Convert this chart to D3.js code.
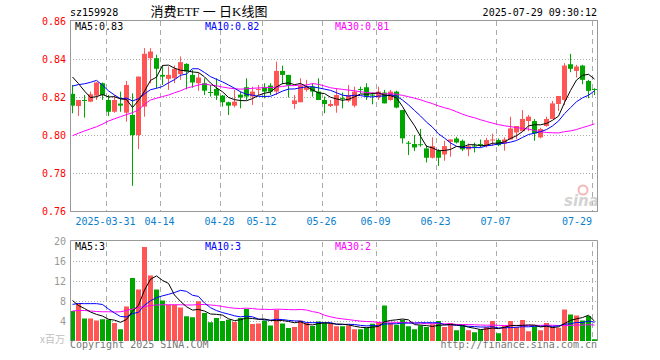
<!DOCTYPE html>
<html><head><meta charset="utf-8">
<script src="https://cdn.jsdelivr.net/npm/d3@7"></script>
<style>html,body{margin:0;padding:0;background:#fff;}svg{display:block;}</style>
</head><body>
<svg id="c" width="660" height="360"></svg>
<script>
// ---------- data ----------
const dates = ["03-21","03-24","03-25","03-26","03-27","03-28","03-31","04-01","04-02","04-03","04-07","04-08","04-09","04-10","04-11","04-14","04-15","04-16","04-17","04-18","04-21","04-22","04-23","04-24","04-25","04-28","04-29","04-30","05-06","05-07","05-08","05-09","05-12","05-13","05-14","05-15","05-16","05-19","05-20","05-21","05-22","05-23","05-26","05-27","05-28","05-29","05-30","06-03","06-04","06-05","06-06","06-09","06-10","06-11","06-12","06-13","06-16","06-17","06-18","06-19","06-20","06-23","06-24","06-25","06-26","06-27","06-30","07-01","07-02","07-03","07-04","07-07","07-08","07-09","07-10","07-11","07-14","07-15","07-16","07-17","07-18","07-21","07-22","07-23","07-24","07-25","07-28","07-29"];
const open  = [0.8219,0.8155,0.8187,0.8178,0.8210,0.8275,0.8187,0.8125,0.8168,0.8120,0.8108,0.8002,0.8152,0.8407,0.8407,0.8319,0.8298,0.8301,0.8323,0.8377,0.8319,0.8275,0.8275,0.8229,0.8245,0.8210,0.8175,0.8157,0.8215,0.8254,0.8205,0.8243,0.8254,0.8263,0.8231,0.8340,0.8319,0.8166,0.8175,0.8240,0.8257,0.8231,0.8187,0.8155,0.8157,0.8198,0.8183,0.8157,0.8245,0.8254,0.8215,0.8200,0.8226,0.8187,0.8231,0.8134,0.7962,0.7955,0.7954,0.7932,0.7883,0.7919,0.7900,0.7967,0.7984,0.7972,0.7927,0.7947,0.7955,0.7946,0.7977,0.7976,0.7958,0.7979,0.8016,0.8023,0.8076,0.8076,0.7990,0.8050,0.8087,0.8166,0.8187,0.8375,0.8340,0.8368,0.8287,0.8245];
const high  = [0.8266,0.8187,0.8213,0.8231,0.8281,0.8279,0.8213,0.8213,0.8231,0.8287,0.8222,0.8310,0.8460,0.8460,0.8425,0.8368,0.8363,0.8368,0.8416,0.8380,0.8345,0.8330,0.8301,0.8266,0.8301,0.8213,0.8178,0.8240,0.8231,0.8301,0.8257,0.8266,0.8275,0.8275,0.8389,0.8368,0.8319,0.8213,0.8301,0.8293,0.8275,0.8301,0.8205,0.8187,0.8249,0.8226,0.8266,0.8257,0.8257,0.8275,0.8226,0.8257,0.8240,0.8240,0.8236,0.8134,0.7971,0.8002,0.8034,0.7949,0.7990,0.7928,0.7972,0.7979,0.7993,0.7979,0.7958,0.7962,0.7979,0.7988,0.8010,0.7984,0.7990,0.8099,0.8050,0.8134,0.8108,0.8087,0.8041,0.8099,0.8182,0.8208,0.8381,0.8430,0.8372,0.8372,0.8293,0.8249];
const low   = [0.8117,0.8103,0.8094,0.8175,0.8187,0.8187,0.8103,0.8120,0.8125,0.8073,0.7735,0.7928,0.8099,0.8275,0.8249,0.8266,0.8240,0.8275,0.8293,0.8243,0.8252,0.8235,0.8213,0.8205,0.8187,0.8152,0.8108,0.8148,0.8143,0.8187,0.8161,0.8213,0.8196,0.8213,0.8213,0.8270,0.8200,0.8140,0.8175,0.8231,0.8205,0.8187,0.8117,0.8150,0.8120,0.8143,0.8175,0.8148,0.8222,0.8187,0.8164,0.8187,0.8169,0.8183,0.8143,0.7958,0.7897,0.7918,0.7941,0.7858,0.7879,0.7840,0.7867,0.7888,0.7958,0.7918,0.7891,0.7911,0.7937,0.7937,0.7946,0.7944,0.7920,0.7979,0.7980,0.8023,0.8023,0.7972,0.7985,0.8046,0.8087,0.8129,0.8161,0.8333,0.8305,0.8270,0.8196,0.8213];
const close = [0.8157,0.8187,0.8182,0.8217,0.8279,0.8213,0.8125,0.8187,0.8157,0.8266,0.8002,0.8310,0.8430,0.8442,0.8351,0.8310,0.8319,0.8351,0.8386,0.8337,0.8279,0.8305,0.8236,0.8224,0.8210,0.8175,0.8157,0.8178,0.8200,0.8205,0.8231,0.8245,0.8231,0.8231,0.8340,0.8319,0.8263,0.8185,0.8263,0.8257,0.8231,0.8187,0.8166,0.8166,0.8213,0.8194,0.8213,0.8231,0.8242,0.8205,0.8213,0.8231,0.8169,0.8231,0.8147,0.7985,0.7958,0.7937,0.7952,0.7883,0.7944,0.7883,0.7944,0.7979,0.7963,0.7927,0.7944,0.7944,0.7952,0.7976,0.7979,0.7949,0.7979,0.8037,0.8050,0.8087,0.8099,0.8011,0.8034,0.8087,0.8169,0.8208,0.8368,0.8351,0.8363,0.8293,0.8235,0.8243];
// volume, x 1,000,000
const volume = [6.0,7.5,4.5,4.5,4.1,4.35,4.3,3.6,2.35,6.9,12.6,10.3,18.8,13.1,10.3,8.1,7.25,7.25,6.7,4.95,4.75,7.95,5.6,3.75,4.6,4.0,4.25,3.8,4.6,6.4,3.4,3.5,4.1,3.1,6.25,3.5,2.6,2.8,4.1,3.6,3.0,3.9,3.6,3.45,2.95,2.95,3.1,2.35,2.35,2.6,3.45,3.8,7.1,3.6,3.25,4.25,2.95,2.35,3.1,2.8,3.35,4.0,2.8,3.6,2.15,3.1,2.15,1.75,2.25,2.8,4.0,1.55,3.1,4.0,2.8,4.2,1.95,2.95,2.15,3.6,2.8,2.65,6.3,5.3,5.1,4.1,5.0,0.35];
// moving-average values at the start of the window (they depend on days before it)
const ma5Head  = [0.8308,0.8273,0.8234,0.8200];
const ma10Head = [0.8260,0.8268,0.8272,0.8280,0.8290,0.8265,0.8235,0.8213,0.8194];
const ma30Head = [0.7999,0.8012,0.8024,0.8035,0.8046,0.8060,0.8076,0.8088,0.8099,0.8110,0.8120,0.8135,0.8164,0.8187,0.8196,0.8205,0.8213,0.8225,0.8235,0.8249,0.8257,0.8266,0.8272,0.8265,0.8262,0.8255,0.8250,0.8246,0.8244];
const vma5Head  = [8.1,7.1,6.5,5.8];
const vma10Head = [7.33,7.5,7.47,7.47,7.47,7.3,6.4,5.6,4.9];
const vma30Head = [6.0,6.1,6.1,6.0,5.9,5.85,5.85,5.8,5.85,6.1,6.4,6.7,6.9,7.1,7.2,7.25,7.25,7.25,7.25,7.2,7.2,7.3,7.3,7.2,7.1,6.9,6.7,6.55,6.5];
const priceTicks = [0.86,0.84,0.82,0.80,0.78,0.76];
const volTicks = [20,16,12,8,4];
const dateTicks = ["03-31","04-14","04-28","05-12","05-26","06-09","06-23","07-07","07-29"];
const dateTickLabels = ["2025-03-31","04-14","04-28","05-12","05-26","06-09","06-23","07-07","07-29"];
const maLabels = ["MA5:0.83","MA10:0.82","MA30:0.81"];
const vmaLabels = ["MA5:3","MA10:3","MA30:2"];
const symbol = "sz159928";
const title = "消费ETF 一 日K线图";
const stamp = "2025-07-29 09:30:12";

// ---------- drawing ----------
const svg = d3.select("#c");
const L = 70, R = 597;
const RED = "#ff5555", GREEN = "#00a600", GRID = "#aaaaaa", BORDER = "#999999";
const MA_COL = ["#000000","#0000ff","#ff00ff"];
const mono = "'DejaVu Sans Mono', monospace";

const x = d3.scaleBand().domain(dates).range([69.5, 597.5]).padding(0);
const cx = d => x(d) + x.bandwidth()/2;
const y = d3.scaleLinear().domain([0.76, 0.86]).range([211.5, 21.5]);
const vy = d3.scaleLinear().domain([0, 20]).range([341, 241]);

function ma(vals, n, head) {
  return vals.map((v, i) => {
    if (i < head.length) return head[i];
    return d3.mean(vals.slice(i - n + 1, i + 1));
  });
}
const rows = dates.map((d, i) => ({d, o: open[i], h: high[i], l: low[i], c: close[i], v: volume[i]}));
const isUp = r => r.c >= r.o;

// grids
const g = svg.append("g");
const crisp = v => Math.round(v - 0.5) + 0.5;
// horizontal dotted
g.selectAll(".hp").data(priceTicks.filter(t => t > 0.765 && t < 0.855)).join("line")
  .attr("x1", L).attr("x2", R).attr("y1", d => crisp(y(d))).attr("y2", d => crisp(y(d)))
  .attr("stroke", GRID).attr("stroke-dasharray", "1,2");
g.selectAll(".hv").data(volTicks.filter(t => t < 20)).join("line")
  .attr("x1", L).attr("x2", R).attr("y1", d => crisp(vy(d))).attr("y2", d => crisp(vy(d)))
  .attr("stroke", GRID).attr("stroke-dasharray", "1,2");
// vertical dashed
const gx = d => cx(d) - 2;
g.selectAll(".vp").data(dateTicks).join("line")
  .attr("x1", d => crisp(gx(d))).attr("x2", d => crisp(gx(d))).attr("y1", 21).attr("y2", 211)
  .attr("stroke", GRID).attr("stroke-dasharray", "5,4");
g.selectAll(".vv").data(dateTicks).join("line")
  .attr("x1", d => crisp(gx(d))).attr("x2", d => crisp(gx(d))).attr("y1", 242).attr("y2", 341)
  .attr("stroke", GRID).attr("stroke-dasharray", "5,4");

// watermark
const wm = svg.append("g").attr("opacity", 0.9);
wm.append("circle").attr("cx", 583).attr("cy", 190).attr("r", 4.5).attr("fill", "none").attr("stroke", "#f2b0b0").attr("stroke-width", 2);
wm.append("text").attr("x", 564).attr("y", 206).attr("font-family", "'DejaVu Sans', sans-serif")
  .attr("font-size", 15).attr("font-weight", "bold").attr("font-style", "italic").attr("fill", "#cfcfcf").text("sina");

// candles
const cg = svg.append("g");
cg.selectAll(".wick").data(rows).join("line")
  .attr("x1", r => cx(r.d)).attr("x2", r => cx(r.d))
  .attr("y1", r => y(r.h)).attr("y2", r => y(r.l))
  .attr("stroke", r => isUp(r) ? RED : GREEN).attr("stroke-width", 1);
cg.selectAll(".body").data(rows).join("rect")
  .attr("x", r => cx(r.d) - 2.5).attr("width", 5)
  .attr("y", r => Math.min(y(r.o), y(r.c)))
  .attr("height", r => Math.max(1, Math.abs(y(r.o) - y(r.c))))
  .attr("fill", r => isUp(r) ? RED : GREEN);

// volume bars
svg.append("g").selectAll("rect").data(rows).join("rect")
  .attr("x", r => cx(r.d) - 2.5).attr("width", 5)
  .attr("y", r => vy(r.v)).attr("height", r => vy(0) - vy(r.v))
  .attr("fill", r => isUp(r) ? RED : GREEN);

// MA lines
const line = (scale) => d3.line().x((v, i) => cx(dates[i])).y(v => scale(v));
const pMA = [ma(close, 5, ma5Head), ma(close, 10, ma10Head), ma(close, 30, ma30Head)];
const vMA = [ma(volume, 5, vma5Head), ma(volume, 10, vma10Head), ma(volume, 30, vma30Head)];
// draw 30 first, then 10, then 5
[2,1,0].forEach(k => {
  svg.append("path").attr("d", line(y)(pMA[k])).attr("fill", "none").attr("stroke", MA_COL[k]).attr("stroke-width", 1);
  svg.append("path").attr("d", line(vy)(vMA[k])).attr("fill", "none").attr("stroke", MA_COL[k]).attr("stroke-width", 1);
});

// borders
const b = svg.append("g").attr("stroke", BORDER).attr("fill", "none");
b.append("rect").attr("x", 70.5).attr("y", 20.5).attr("width", 527).attr("height", 191);
b.append("path").attr("d", "M70.5,341V240.5H597.5V341");

// text
const T = (x0, y0, s, opt = {}) => svg.append("text").attr("x", x0).attr("y", y0)
  .attr("font-family", opt.font || mono).attr("font-size", opt.size || 10)
  .attr("fill", opt.fill || "#000").attr("text-anchor", opt.anchor || "start").text(s);

T(70, 16, symbol);
T(209, 16, title, {font: "'Liberation Serif', 'Noto Sans CJK SC', serif", size: 13, anchor: "middle"});
T(597, 16, stamp, {anchor: "end"});

priceTicks.forEach(t => T(66, y(t) + 3.5, t.toFixed(2), {fill: "#ff0000", anchor: "end"}));
volTicks.forEach(t => T(66, vy(t) + 3.5, String(t), {fill: "#999999", anchor: "end"}));
T(65, 343, "x百万", {font: "'Noto Sans CJK SC', sans-serif", size: 10, fill: "#c0c0c0", anchor: "end"});

const maX = [75, 205, 335];
maLabels.forEach((s, k) => T(maX[k], 29.5, s, {fill: MA_COL[k]}));
vmaLabels.forEach((s, k) => T(maX[k], 249.5, s, {fill: MA_COL[k]}));

dateTicks.forEach((d, k) => {
  const s = dateTickLabels[k];
  const w = s.length * 6.02;
  const c = Math.min(gx(d) - 1, 592 - w / 2);
  T(c, 225, s, {fill: "#0a80d0", anchor: "middle"});
});

T(70, 348, "Copyright 2025 SINA.COM", {fill: "#777777"});
T(597, 348, "http://finance.sina.com.cn", {fill: "#777777", anchor: "end"});
</script>
</body></html>
